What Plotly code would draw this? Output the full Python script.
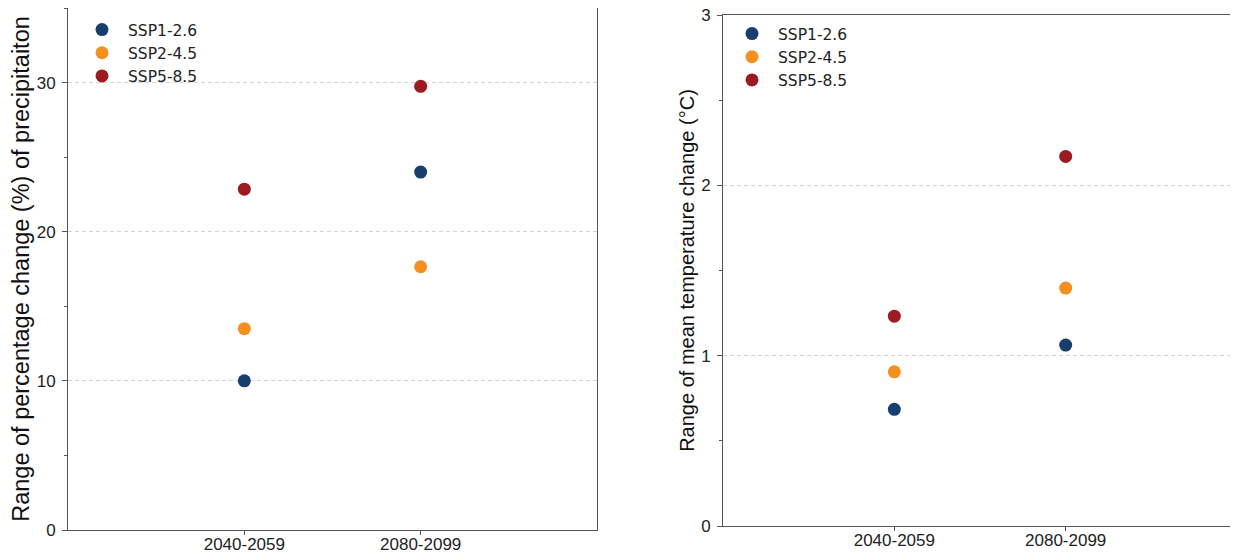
import plotly.graph_objects as go

periods = ["2040-2059", "2080-2099"]
scenarios = ["SSP1-2.6", "SSP2-4.5", "SSP5-8.5"]
colors = ["#183E6E", "#F5901E", "#9B1B20"]

precip_change = {
    "SSP1-2.6": [10.0, 24.0],
    "SSP2-4.5": [13.5, 17.65],
    "SSP5-8.5": [22.85, 29.75],
}
temp_change = {
    "SSP1-2.6": [0.685, 1.062],
    "SSP2-4.5": [0.905, 1.397],
    "SSP5-8.5": [1.232, 2.17],
}

# page body has an 8px margin, so the figure is drawn at (8, 8)
W, H = 1230, 546
fig = go.Figure()

for s, c in zip(scenarios, colors):
    fig.add_trace(go.Scatter(x=periods, y=precip_change[s], mode="markers", name=s,
                             marker=dict(color=c, size=13), xaxis="x", yaxis="y",
                             legend="legend", showlegend=True))
for s, c in zip(scenarios, colors):
    fig.add_trace(go.Scatter(x=periods, y=temp_change[s], mode="markers", name=s,
                             marker=dict(color=c, size=13), xaxis="x2", yaxis="y2",
                             legend="legend2", showlegend=True))

axfont = dict(family="Liberation Sans, Arial, sans-serif", size=17, color="#222")
linecol = "#555"

def xax(domain, anchor):
    return dict(domain=domain, anchor=anchor, type="category", range=[-1, 2],
                showline=True, linecolor=linecol, linewidth=1, mirror=True,
                ticks="outside", ticklen=4, tickcolor=linecol, showgrid=False,
                tickfont=axfont, zeroline=False, automargin=False,
                ticklabelstandoff=-5, ticklabeloverflow="allow")

def yax(domain, anchor, rng, dtick, mdtick, title, tsize, standoff):
    return dict(domain=domain, anchor=anchor, range=rng, dtick=dtick,
                showline=True, linecolor=linecol, linewidth=1, mirror=True,
                ticks="outside", ticklen=5, tickcolor=linecol, ticklabelstandoff=3,
                ticklabeloverflow="allow",
                minor=dict(ticks="outside", dtick=mdtick, ticklen=3, tickcolor=linecol, showgrid=False),
                showgrid=True, gridcolor="#d4d4d4", griddash="4px,3px", gridwidth=1,
                zeroline=False, tickfont=axfont, automargin=False,
                title=dict(text=title, font=dict(family="Liberation Sans, Arial, sans-serif", size=tsize, color="#111"), standoff=standoff))

legfont = dict(family="DejaVu Sans, sans-serif", size=15.5, color="#222")

fig.update_layout(
    width=W, height=H,
    margin=dict(l=0, r=0, t=0, b=0),
    paper_bgcolor="white", plot_bgcolor="white",
    xaxis=xax([60 / W, 589 / W], "y"),
    yaxis=yax([24 / H, 1.0], "x", [0, 35], 10, 5, "Range of percentage change (%) of precipitaiton", 23.5, 17),
    xaxis2=xax([715 / W, 1229 / W], "y2"),
    yaxis2=yax([28 / H, 1 - 7 / H], "x2", [0, 3], 1, 0.5, "Range of mean temperature change (°C)", 20, 1),
    legend=dict(x=68 / W, y=1 - 5 / H, xanchor="left", yanchor="top",
                font=legfont, bgcolor="rgba(0,0,0,0)", itemwidth=42, tracegroupgap=0),
    legend2=dict(x=718 / W, y=1 - 9 / H, xanchor="left", yanchor="top",
                 font=legfont, bgcolor="rgba(0,0,0,0)", itemwidth=42, tracegroupgap=0),
    showlegend=True,
)

fig.write_html("out.html")
